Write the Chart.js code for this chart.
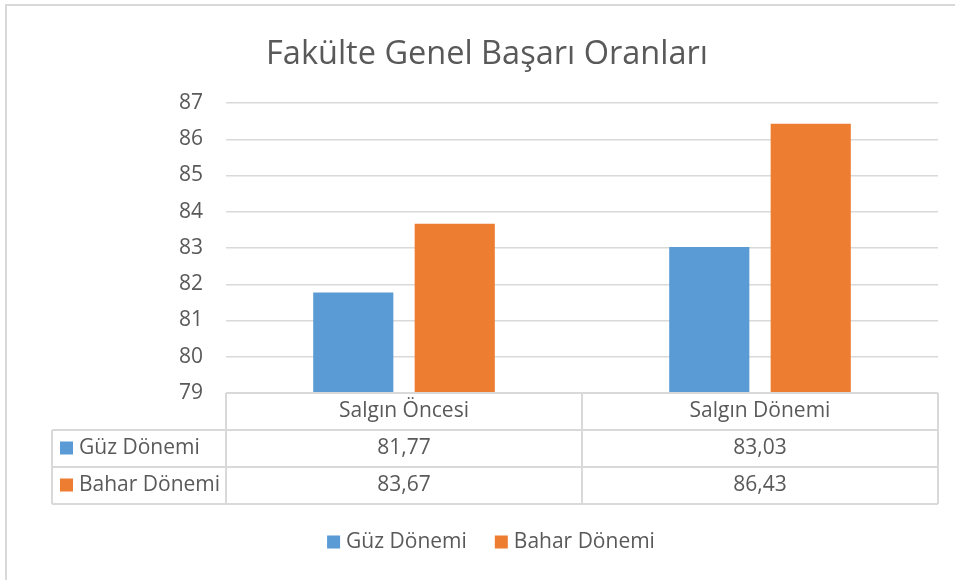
<!DOCTYPE html>
<html>
<head>
<meta charset="utf-8">
<script src="https://cdn.jsdelivr.net/npm/chart.js@4/dist/chart.umd.min.js"></script>
<style>
  html, body { margin: 0; padding: 0; background: #fff; }
  #wrap { width: 955px; height: 580px; position: relative; }
</style>
</head>
<body>
<div id="wrap"><canvas id="chart"></canvas></div>
<script>
'use strict';

const TITLE = 'Fakülte Genel Başarı Oranları';
const categories = ['Salgın Öncesi', 'Salgın Dönemi'];
const seriesNames = ['Güz Dönemi', 'Bahar Dönemi'];
const guzValues = [81.77, 83.03];
const baharValues = [83.67, 86.43];
const yTicks = [79, 80, 81, 82, 83, 84, 85, 86, 87];

const TEXT = '#595959';
const LINE = '#d9d9d9';
const COLORS = ['#5b9bd5', '#ed7d31'];
const FONT = '"Open Sans", "Noto Sans", sans-serif';

// comma as decimal separator, like the original sheet
const fmt = v => v.toFixed(2).replace('.', ',');

// Excel-style frame, title, data table and legend
const excelPlugin = {
    id: 'excelBits',
    beforeDraw(chart) {
        const c = chart.ctx;
        c.save();
        c.fillStyle = '#fff';
        c.fillRect(0, 0, chart.width, chart.height);
        c.strokeStyle = LINE;
        c.lineWidth = 2;
        c.beginPath();
        c.moveTo(6, chart.height);
        c.lineTo(6, 5);
        c.lineTo(chart.width, 5);
        c.stroke();

        // title (the excel chart is a bit wider than the visible canvas)
        c.font = '32.5px ' + FONT;
        c.fillStyle = TEXT;
        c.textAlign = 'center';
        c.textBaseline = 'middle';
        c.fillText(TITLE, 487, 55);
        c.restore();
    },
    afterDraw(chart) {
        const c = chart.ctx;
        const area = chart.chartArea;
        const x = chart.scales.x;
        const rowH = 37;
        const left = 52;
        const top = area.bottom;
        const rows = [guzValues, baharValues];
        const colEdges = [area.left];
        categories.forEach((_, i) => {
            const centre = x.getPixelForValue(i);
            colEdges.push(centre + (centre - colEdges[i]));
        });

        c.save();
        c.strokeStyle = LINE;
        c.lineWidth = 2;
        c.beginPath();
        c.moveTo(area.left, top); c.lineTo(area.right, top);
        for (let r = 1; r <= rows.length + 1; r++) {
            c.moveTo(left, top + r * rowH); c.lineTo(area.right, top + r * rowH);
        }
        colEdges.forEach(e => { c.moveTo(e, top); c.lineTo(e, top + (rows.length + 1) * rowH); });
        c.moveTo(left, top + rowH); c.lineTo(left, top + (rows.length + 1) * rowH);
        c.stroke();

        c.font = '21px ' + FONT;
        c.fillStyle = TEXT;
        c.textBaseline = 'middle';
        c.textAlign = 'center';
        categories.forEach((cat, i) => {
            c.fillText(cat, x.getPixelForValue(i), top + rowH / 2);
        });
        rows.forEach((vals, r) => {
            const cy = top + (r + 1) * rowH + rowH / 2;
            vals.forEach((v, i) => c.fillText(fmt(v), x.getPixelForValue(i), cy));
            c.fillStyle = COLORS[r];
            c.fillRect(left + 8, cy - 7, 13, 13);
            c.fillStyle = TEXT;
            c.textAlign = 'left';
            c.fillText(seriesNames[r], left + 27, cy);
            c.textAlign = 'center';
        });

        // legend at the bottom
        const ly = 542.5;
        const widths = seriesNames.map(n => c.measureText(n).width);
        const total = widths.reduce((a, w) => a + 13 + 6 + w, 0) + 28 * (seriesNames.length - 1);
        let lx = 491 - total / 2;
        c.textAlign = 'left';
        seriesNames.forEach((n, i) => {
            c.fillStyle = COLORS[i];
            c.fillRect(lx, ly - 7, 13, 13);
            c.fillStyle = TEXT;
            c.fillText(n, lx + 19, ly);
            lx += 13 + 6 + widths[i] + 28;
        });
        c.restore();
    }
};

const ctx = document.getElementById('chart').getContext('2d');
new Chart(ctx, {
    type: 'bar',
    data: {
        labels: categories,
        datasets: [
            { label: seriesNames[0], data: guzValues, backgroundColor: COLORS[0] },
            { label: seriesNames[1], data: baharValues, backgroundColor: COLORS[1] },
        ],
    },
    options: {
        responsive: true,
        maintainAspectRatio: false,
        animation: false,
        categoryPercentage: 0.57,
        barPercentage: 0.79,
        layout: { padding: { left: 0, right: 17, top: 103, bottom: 76 } },
        plugins: {
            tooltip: { enabled: false },
            title: { display: false },
            legend: { display: false },
        },
        scales: {
            x: {
                grid: { display: false },
                border: { display: false },
                ticks: { display: false },
                afterFit: s => { s.height = 111; },
            },
            y: {
                min: yTicks[0],
                max: yTicks[yTicks.length - 1],
                afterBuildTicks: s => { s.ticks = yTicks.map(v => ({ value: v })); },
                grid: { color: LINE, lineWidth: 1.5, drawTicks: false },
                border: { display: false },
                ticks: { color: TEXT, font: { family: FONT, size: 21 }, padding: 23 },
                afterFit: s => { s.width = 226; },
            },
        },
    },
    plugins: [excelPlugin],
});
</script>
</body>
</html>
